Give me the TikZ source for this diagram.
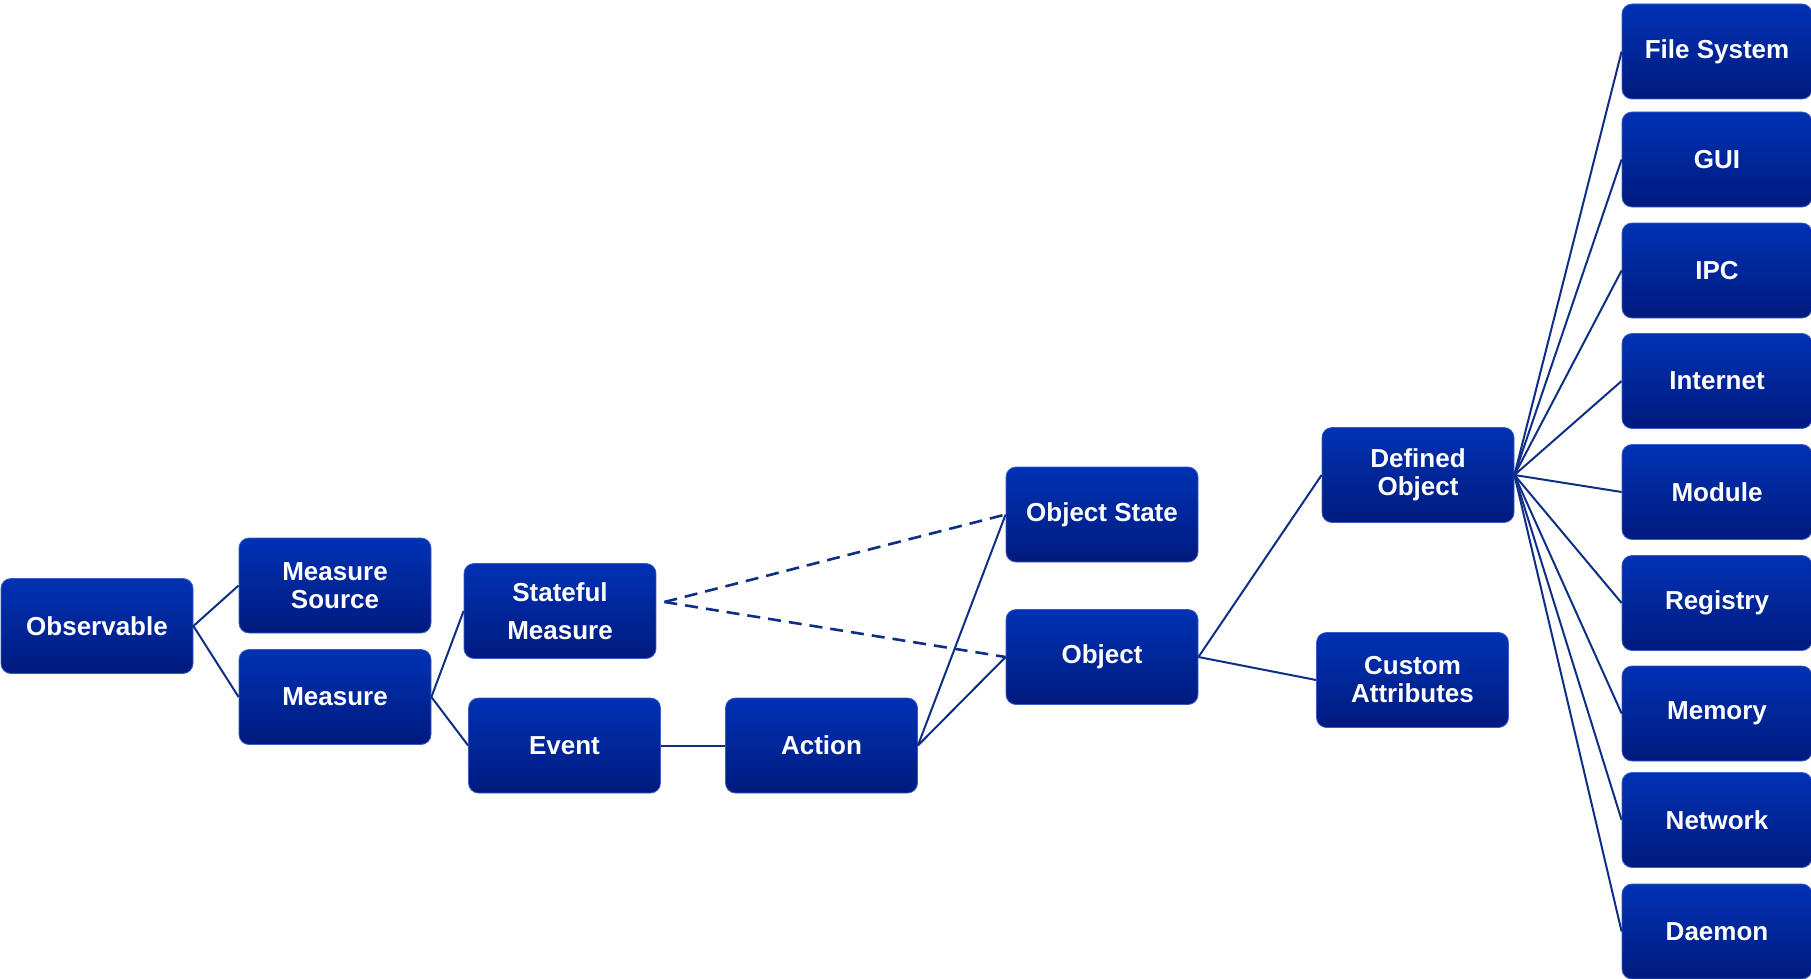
\documentclass[tikz,border=0pt]{standalone}
\usepackage{fontspec}
\setmainfont{Liberation Sans}
\definecolor{boxtop}{HTML}{0032B4}
\definecolor{boxbot}{HTML}{001A7E}
\definecolor{boxedge}{HTML}{3A5BC0}
\definecolor{wire}{HTML}{0F2E85}
\tikzset{
  unit/.style={rectangle, rounded corners=10pt, minimum width=192pt, minimum height=95pt,
    inner sep=0pt, top color=boxtop, bottom color=boxbot, draw=boxedge, line width=0.8pt,
    text=white, align=center, font=\fontsize{26}{28}\selectfont\bfseries},
  leaf/.style={unit, minimum width=190pt},
  link/.style={draw=wire, line width=2pt},
  weak/.style={draw=wire, line width=2.6pt, dash pattern=on 13pt off 8pt}
}
\begin{document}
\begin{tikzpicture}[x=1pt, y=-1pt]
\useasboundingbox (0,0) rectangle (1811,979);

% left part of the hierarchy
\node[unit] (obs)    at (97,626)    {Observable};
\node[unit] (msrc)   at (335,585.5) {Measure\\Source};
\node[unit] (meas)   at (335,697)   {Measure};
\node[unit] (sfm)    at (560,611)   {Stateful\\[10pt]Measure};
\node[unit] (event)  at (564.5,745.5) {Event};
\node[unit] (action) at (821.5,745.5) {Action};
\node[unit] (ostate) at (1102,514.5) {Object State};
\node[unit] (object) at (1102,657)   {Object};
\node[unit] (defobj) at (1418,475)   {Defined\\Object};
\node[unit] (custom) at (1412.5,680) {Custom\\Attributes};

% defined object kinds
\node[leaf] (fs)   at (1717,51.5)  {File System};
\node[leaf] (gui)  at (1717,159.5) {GUI};
\node[leaf] (ipc)  at (1717,270.5) {IPC};
\node[leaf] (inet) at (1717,381)   {Internet};
\node[leaf] (mod)  at (1717,492)   {Module};
\node[leaf] (reg)  at (1717,603)   {Registry};
\node[leaf] (mem)  at (1717,713.5) {Memory};
\node[leaf] (net)  at (1717,820)   {Network};
\node[leaf] (dae)  at (1717,931.5) {Daemon};

% connectors
\draw[link] (obs.east) -- (msrc.west);
\draw[link] (obs.east) -- (meas.west);
\draw[link] (meas.east) -- (sfm.west);
\draw[link] (meas.east) -- (event.west);
\draw[link] (event.east) -- (action.west);
\draw[link] (action.east) -- (ostate.west);
\draw[link] (action.east) -- (object.west);
\draw[link] (object.east) -- (defobj.west);
\draw[link] (object.east) -- (custom.west);
\foreach \k in {fs,gui,ipc,inet,mod,reg,mem,net,dae}
  \draw[link] (defobj.east) -- (\k.west);

\coordinate (sfmout) at ([xshift=8pt,yshift=9pt]sfm.east);
\draw[weak] (sfmout) -- (ostate.west);
\draw[weak] (sfmout) -- (object.west);
\end{tikzpicture}
\end{document}
